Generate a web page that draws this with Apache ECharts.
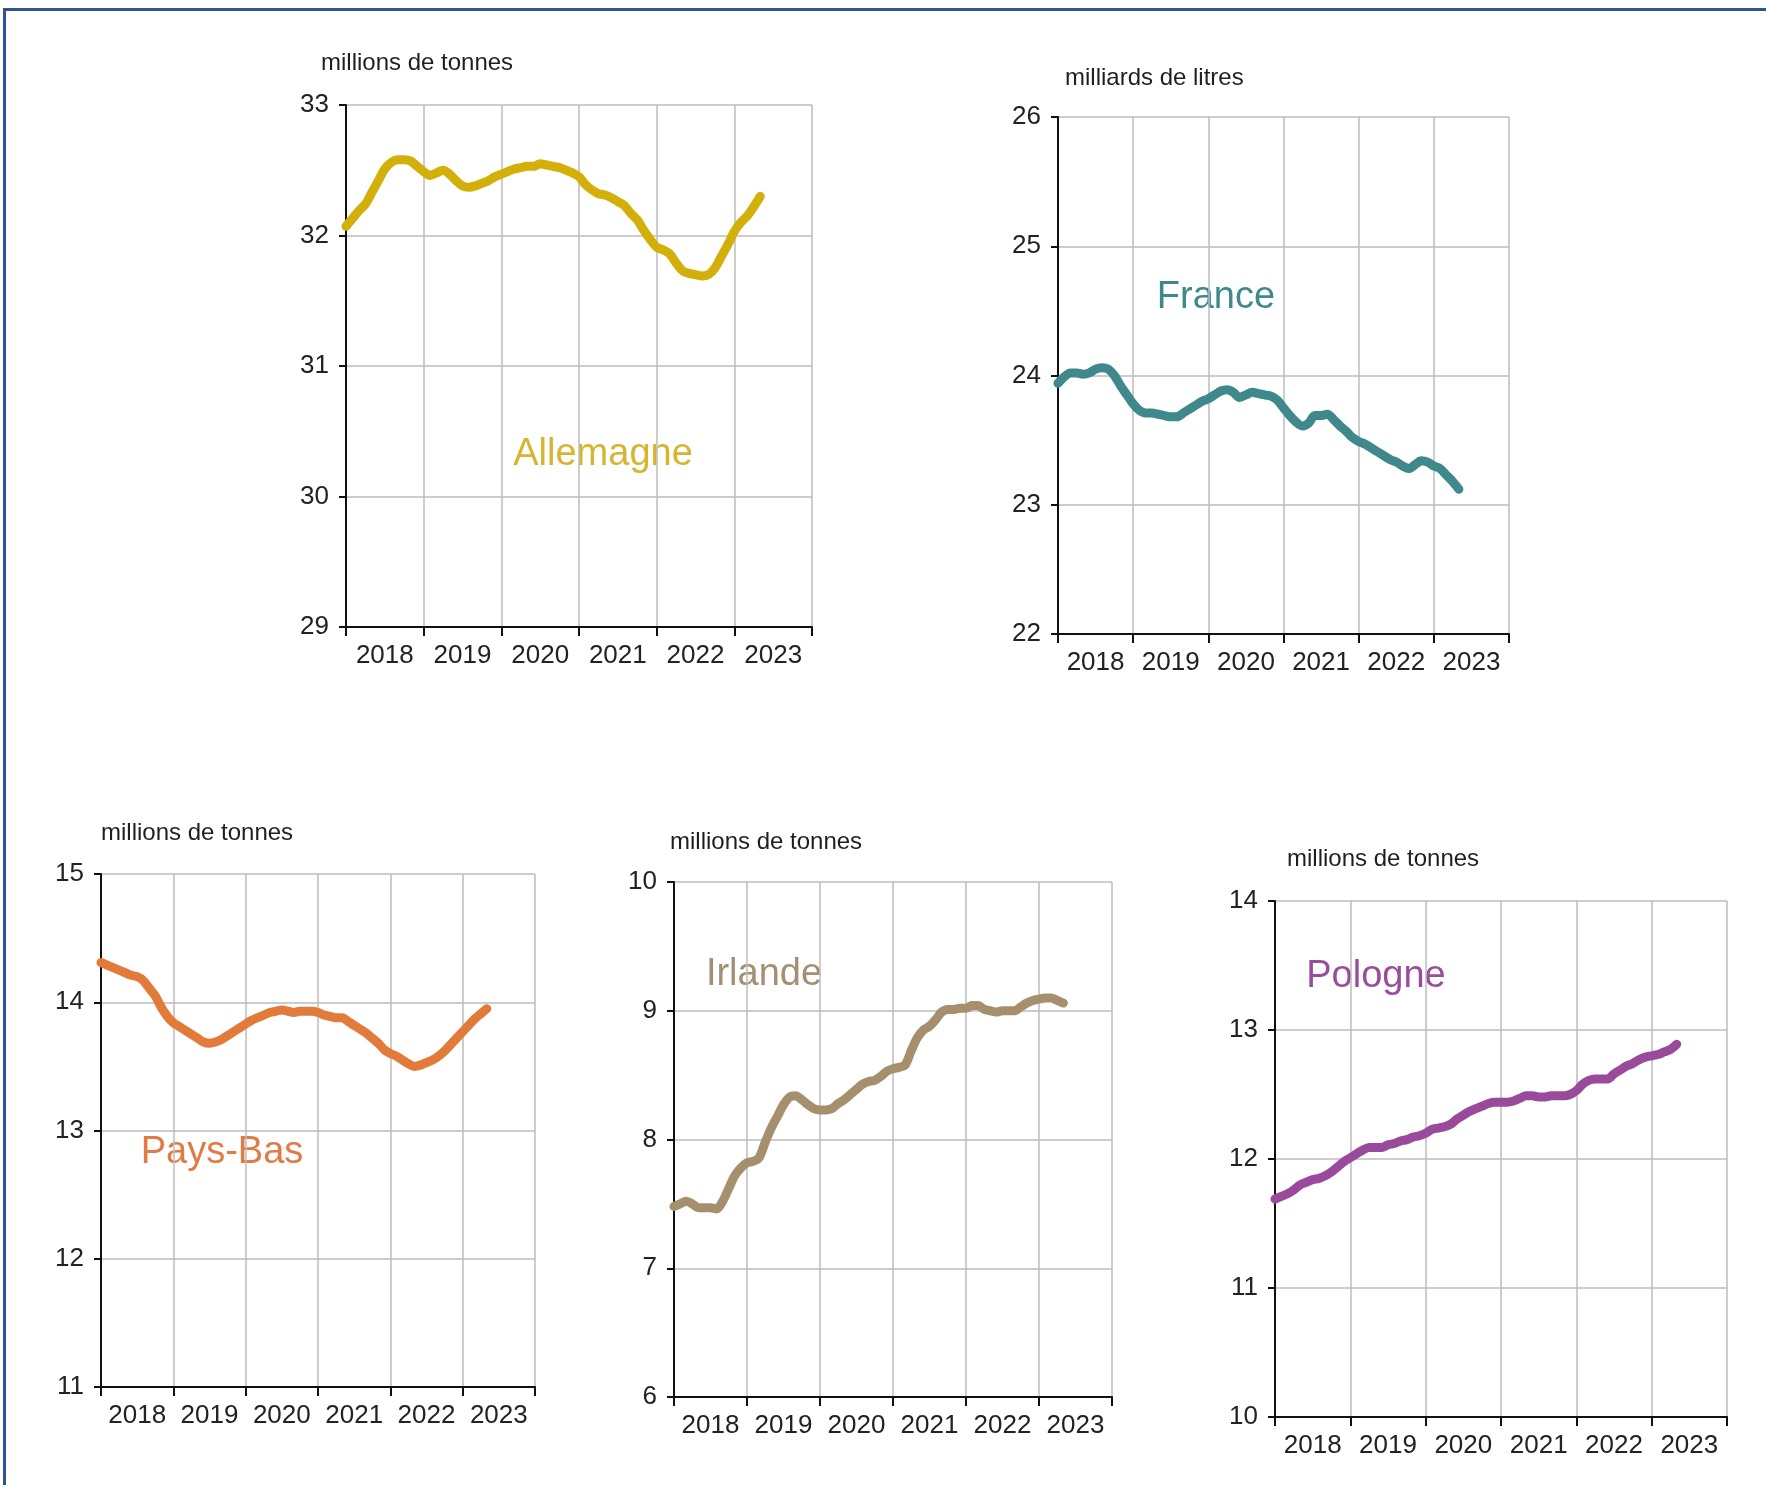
<!DOCTYPE html>
<html>
<head>
<meta charset="utf-8">
<script src="https://cdn.jsdelivr.net/npm/echarts@6/dist/echarts.min.js"></script>
<style>
html,body{margin:0;padding:0;background:#fff;}
#chart{width:1766px;height:1485px;}
</style>
</head>
<body>
<div id="chart"></div>
<script>
// ---- Data (monthly, 12-month figures, Jan 2018 -> May 2023) ----
const years = ['2018', '2019', '2020', '2021', '2022', '2023'];
const firstYear = 2018;

const allemagne = [32.07,32.13,32.19,32.24,32.33,32.42,32.51,32.56,32.58,32.58,32.57,32.53,
  32.49,32.46,32.48,32.50,32.47,32.42,32.38,32.37,32.38,32.40,32.42,32.45,
  32.47,32.49,32.51,32.52,32.53,32.53,32.55,32.54,32.53,32.52,32.50,32.48,
  32.45,32.39,32.35,32.32,32.31,32.29,32.26,32.23,32.17,32.12,32.04,31.97,
  31.91,31.89,31.86,31.79,31.73,31.71,31.70,31.69,31.70,31.75,31.84,31.93,
  32.03,32.10,32.15,32.22,32.30];

const france = [23.94,23.99,24.02,24.02,24.01,24.02,24.05,24.06,24.05,24.00,23.92,23.85,
  23.78,23.73,23.71,23.71,23.70,23.69,23.68,23.68,23.71,23.74,23.77,23.80,
  23.82,23.85,23.88,23.89,23.87,23.83,23.85,23.87,23.86,23.85,23.84,23.81,
  23.75,23.69,23.64,23.61,23.63,23.69,23.69,23.70,23.66,23.61,23.57,23.52,
  23.49,23.47,23.44,23.41,23.38,23.35,23.33,23.30,23.28,23.31,23.34,23.33,
  23.30,23.28,23.23,23.18,23.12];

const paysBas = [14.31,14.29,14.27,14.25,14.23,14.21,14.20,14.17,14.11,14.05,13.96,13.89,
  13.84,13.81,13.78,13.75,13.72,13.69,13.68,13.69,13.71,13.74,13.77,13.80,
  13.83,13.86,13.88,13.90,13.92,13.93,13.94,13.93,13.92,13.93,13.93,13.93,
  13.92,13.90,13.89,13.88,13.88,13.85,13.82,13.79,13.76,13.72,13.68,13.63,
  13.60,13.58,13.55,13.52,13.50,13.51,13.53,13.55,13.58,13.62,13.67,13.72,
  13.77,13.82,13.87,13.91,13.95];

const irlande = [7.48,7.50,7.52,7.50,7.47,7.47,7.47,7.46,7.52,7.62,7.72,7.78,
  7.82,7.83,7.86,7.98,8.09,8.18,8.27,8.33,8.34,8.31,8.27,8.24,
  8.23,8.23,8.24,8.28,8.31,8.35,8.39,8.43,8.45,8.46,8.49,8.53,
  8.55,8.56,8.58,8.69,8.79,8.85,8.88,8.93,8.99,9.01,9.01,9.02,
  9.02,9.04,9.04,9.01,9.00,8.99,9.00,9.00,9.00,9.03,9.06,9.08,
  9.09,9.10,9.10,9.08,9.06];

const pologne = [11.69,11.71,11.73,11.76,11.80,11.82,11.84,11.85,11.87,11.90,11.94,11.98,
  12.01,12.04,12.07,12.09,12.09,12.09,12.11,12.12,12.14,12.15,12.17,12.18,
  12.20,12.23,12.24,12.25,12.27,12.31,12.34,12.37,12.39,12.41,12.43,12.44,
  12.44,12.44,12.45,12.47,12.49,12.49,12.48,12.48,12.49,12.49,12.49,12.50,
  12.53,12.58,12.61,12.62,12.62,12.62,12.66,12.69,12.72,12.74,12.77,12.79,
  12.80,12.81,12.83,12.85,12.89];

const units = ['millions de tonnes', 'milliards de litres', 'millions de tonnes', 'millions de tonnes', 'millions de tonnes'];
const countries = ['Allemagne', 'France', 'Pays-Bas', 'Irlande', 'Pologne'];
const yRanges = [[29, 33], [22, 26], [11, 15], [6, 10], [10, 14]];
const seriesValues = [allemagne, france, paysBas, irlande, pologne];

// ---- Layout / style ----
const FONT = '"Liberation Sans", Arial, sans-serif';
const colors = ['#D3AF0A', '#3F898C', '#E27A3A', '#A68F6D', '#994A9B'];
const textColors = ['#D6B530', '#3F898C', '#E07B45', '#A58F72', '#994E9B'];
const grids = [
  {left: 346, top: 105, width: 466, height: 522},
  {left: 1058, top: 117, width: 451, height: 517},
  {left: 101, top: 874, width: 434, height: 513},
  {left: 674, top: 882, width: 438, height: 515},
  {left: 1275, top: 901, width: 452, height: 516}
];
const unitPos = [[321, 63], [1065, 78], [101, 833], [670, 842], [1287, 859]];
const countryPos = [[603, 455], [1216, 298], [222, 1153], [764, 975], [1376, 977]];

const chart = echarts.init(document.getElementById('chart'), null, {renderer: 'canvas'});

const option = {
  backgroundColor: '#ffffff',
  animation: false,
  grid: [], xAxis: [], yAxis: [], series: [], graphic: []
};

grids.forEach((g, i) => {
  option.grid.push(Object.assign({containLabel: false}, g));
  // category axis: ticks at year boundaries, labels centred in each year
  option.xAxis.push({
    type: 'category', gridIndex: i, data: years, boundaryGap: true,
    axisLine: {show: true, lineStyle: {color: '#111', width: 2}},
    axisTick: {show: true, length: 9, inside: false, lineStyle: {color: '#111', width: 2}},
    axisLabel: {show: true, interval: 0, margin: 16, fontSize: 26, color: '#222', fontFamily: FONT},
    splitLine: {show: true, lineStyle: {color: '#bdbdbd', width: 1.5}}
  });
  // hidden value axis carrying the monthly data
  option.xAxis.push({
    type: 'value', gridIndex: i, min: firstYear, max: firstYear + years.length, show: false,
    splitLine: {show: false}
  });
  option.yAxis.push({
    type: 'value', gridIndex: i, min: yRanges[i][0], max: yRanges[i][1], interval: 1,
    axisLine: {show: true, lineStyle: {color: '#111', width: 2}},
    axisTick: {show: true, length: 7, lineStyle: {color: '#111', width: 2}},
    axisLabel: {margin: 17, fontSize: 26, color: '#222', fontFamily: FONT},
    splitLine: {show: true, lineStyle: {color: '#bdbdbd', width: 1.5}}
  });
  option.series.push({
    type: 'line', name: countries[i], xAxisIndex: 2 * i + 1, yAxisIndex: i,
    data: seriesValues[i].map((v, k) => [firstYear + k / 12, v]),
    showSymbol: false, smooth: 0.3, z: 5,
    lineStyle: {color: colors[i], width: 9, cap: 'round', join: 'round'}
  });
  option.graphic.push({
    type: 'text', x: unitPos[i][0], y: unitPos[i][1],
    style: {text: units[i], font: '24px ' + FONT, fill: '#1f1f1f', verticalAlign: 'middle'}
  });
  option.graphic.push({
    type: 'text', x: countryPos[i][0], y: countryPos[i][1],
    style: {text: countries[i], font: '38px ' + FONT, fill: textColors[i], align: 'center', verticalAlign: 'middle'}
  });
});

// outer frame (top and left edges visible)
option.graphic.push({
  type: 'rect', shape: {x: 4.5, y: 9.5, width: 1800, height: 1520},
  style: {fill: 'none', stroke: '#2F5597', lineWidth: 3}, z: 100
});

chart.setOption(option);
</script>
</body>
</html>
